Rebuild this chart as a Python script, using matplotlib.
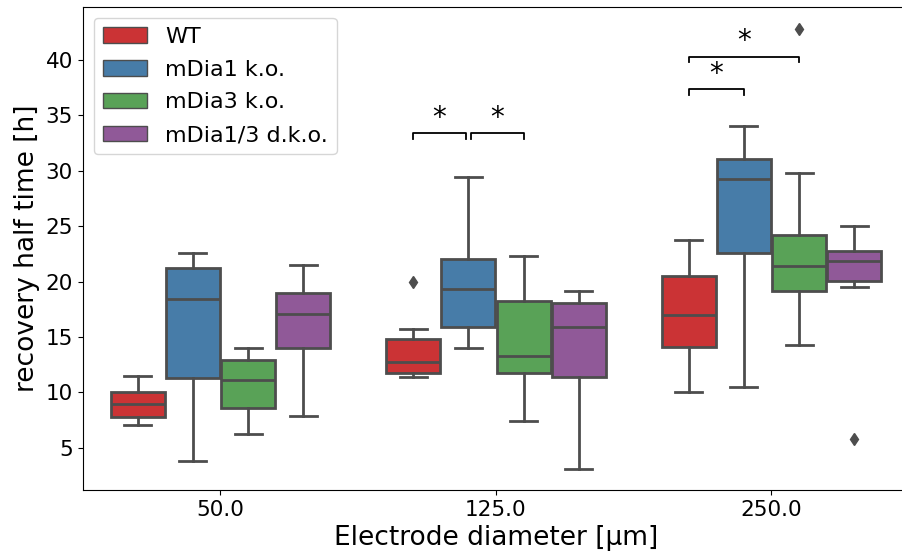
import colorsys
import matplotlib
matplotlib.use("Agg")
import matplotlib.pyplot as plt
import matplotlib.colors as mcolors
from matplotlib.patches import Patch

diameters = ["50.0", "125.0", "250.0"]
genotypes = ["WT", "mDia1 k.o.", "mDia3 k.o.", "mDia1/3 d.k.o."]

# box statistics per genotype, one entry per electrode diameter:
# (lower whisker, q1, median, q3, upper whisker)
wt_stats = [(7.05, 7.80, 8.92, 10.06, 11.47),
            (11.36, 11.72, 12.76, 14.79, 15.72),
            (10.06, 14.12, 16.98, 20.47, 23.78)]
mdia1_stats = [(3.83, 11.27, 18.40, 21.25, 22.55),
               (14.03, 15.92, 19.30, 22.04, 29.41),
               (10.45, 22.60, 29.28, 31.04, 34.04)]
mdia3_stats = [(6.24, 8.56, 11.17, 12.92, 13.97),
               (7.44, 11.72, 13.25, 18.24, 22.33),
               (14.24, 19.17, 21.43, 24.20, 29.83)]
dko_stats = [(7.92, 14.03, 17.04, 18.99, 21.52),
             (3.14, 11.41, 15.90, 18.09, 19.15),
             (19.51, 20.08, 21.83, 22.78, 25.01)]

wt_fliers = [[], [19.93], []]
mdia1_fliers = [[], [], []]
mdia3_fliers = [[], [], [42.83]]
dko_fliers = [[], [], [5.81]]

all_stats = [wt_stats, mdia1_stats, mdia3_stats, dko_stats]
all_fliers = [wt_fliers, mdia1_fliers, mdia3_fliers, dko_fliers]

# significance brackets: (diameter index, genotype a, genotype b, height)
sig_pairs = [(1, 0, 1, 33.4), (1, 1, 2, 33.4),
             (2, 0, 1, 37.35), (2, 0, 2, 40.3)]

base = ["#e41a1c", "#377eb8", "#4daf4a", "#984ea3"]


def desaturate(c, prop=0.75):
    r, g, b = mcolors.to_rgb(c)
    h, l, s = colorsys.rgb_to_hls(r, g, b)
    return colorsys.hls_to_rgb(h, l, s * prop)


colors = [desaturate(c) for c in base]
line_col = "#4d4d4d"

fig = plt.figure(figsize=(9.03, 5.59), dpi=100)
ax = fig.add_axes([0.0916, 0.1234, 0.9153, 0.8646])

offsets = [-0.3, -0.1, 0.1, 0.3]
width = 0.196

for g, (stats, fliers) in enumerate(zip(all_stats, all_fliers)):
    bxp_stats = []
    for (lo, q1, med, q3, hi), fl in zip(stats, fliers):
        bxp_stats.append(dict(whislo=lo, q1=q1, med=med, q3=q3, whishi=hi,
                              fliers=fl))
    pos = [i + offsets[g] for i in range(len(diameters))]
    ax.bxp(bxp_stats, positions=pos, widths=width, patch_artist=True,
           showfliers=True, manage_ticks=False,
           boxprops=dict(facecolor=colors[g], edgecolor=line_col, linewidth=2),
           medianprops=dict(color=line_col, linewidth=2),
           whiskerprops=dict(color=line_col, linewidth=2),
           capprops=dict(color=line_col, linewidth=2),
           flierprops=dict(marker="d", markerfacecolor=line_col,
                           markeredgecolor=line_col, markersize=6))

for i, a, b, h in sig_pairs:
    x1 = i + offsets[a]
    x2 = i + offsets[b]
    if i == 1:
        # keep a small gap where the two brackets meet
        if a == 1:
            x1 += 0.01
        if b == 1:
            x2 -= 0.01
    ax.plot([x1, x1, x2, x2], [h - 0.5, h, h, h - 0.5], color="black", lw=1.3)
    ax.text((x1 + x2) / 2, h + 0.1, "*", ha="center", va="bottom", fontsize=20)

ax.set_xlim(-0.5, 2.5)
ax.set_ylim(1.2, 44.8)
ax.set_xticks(range(len(diameters)))
ax.set_xticklabels(diameters)
ax.set_yticks([5, 10, 15, 20, 25, 30, 35, 40])
ax.tick_params(labelsize=15.5)
ax.set_xlabel("Electrode diameter [µm]", fontsize=19)
ax.set_ylabel("recovery half time [h]", fontsize=19)

handles = [Patch(facecolor=c, edgecolor=line_col, label=n)
           for c, n in zip(colors, genotypes)]
ax.legend(handles=handles, loc="upper left", fontsize=16, labelspacing=0.58)

fig.savefig("out.png", dpi=100)
